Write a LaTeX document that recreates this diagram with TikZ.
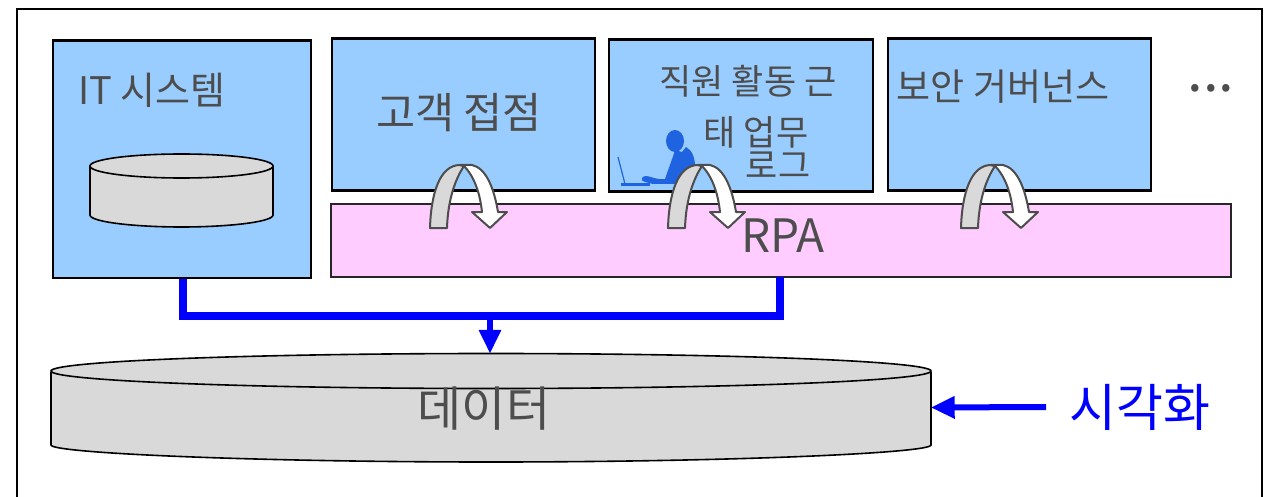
\documentclass[tikz,border=0pt]{standalone}
\usepackage{fontspec}
\setmainfont{Noto Sans CJK KR}
\usetikzlibrary{calc,arrows.meta}
\definecolor{boxblue}{HTML}{99CCFF}
\definecolor{rpapink}{HTML}{FFCCFF}
\definecolor{dbgrey}{HTML}{D9D9D9}
\definecolor{txt}{HTML}{4D4D4D}
\definecolor{person}{HTML}{1F63E0}
\newcommand{\fs}[1]{\fontsize{#1}{#1}\selectfont}
\tikzset{
  panel/.style={draw=black,line width=2.4pt,fill=boxblue,inner sep=0pt,anchor=north west},
  label/.style={text=txt,inner sep=0pt,anchor=center},
  flow/.style={draw=blue,line width=8pt},
  bluehead/.style={-{Triangle[length=24pt,width=21pt]},draw=blue,line width=6pt,shorten >=-0.5pt},
  archgrey/.style={fill=dbgrey,draw=txt,line width=2pt,line join=round},
  archwhite/.style={fill=white,draw=txt,line width=2pt,line join=round},
  pics/arch/.style={code={
    \path[archgrey] (0,0) .. controls (1,-35) and (10,-63) .. (30,-63) -- (34,-62)
       .. controls (26,-50) and (18,-30) .. (17,0) -- cycle;
    \path[archwhite] (30,-63) -- (42,-63) .. controls (56,-60) and (64,-40) .. (68,-16)
       -- (77,-16) -- (60,0) -- (42,-16) -- (52,-16)
       .. controls (50,-35) and (44,-52) .. (34,-62) -- cycle;
  }},
}
\begin{document}
\begin{tikzpicture}[x=1pt,y=-1pt]
\useasboundingbox (0,0) rectangle (1268,497);
\draw[line width=2pt] (17,497) -- (17,9) -- (1262,9) -- (1262,497);

% panels
\node[panel,minimum width=258pt,minimum height=237pt] (it) at (51.5,39.5) {};
\node[panel,minimum width=263pt,minimum height=152pt] (cust) at (330.5,37.5) {};
\node[panel,minimum width=264pt,minimum height=152pt] (staff) at (608,38.5) {};
\node[panel,minimum width=263pt,minimum height=152pt] (sec) at (886.5,37.5) {};
\node[panel,draw=black!85,fill=rpapink,minimum width=900pt,minimum height=73pt] (rpa) at (330,203) {};

% small cylinder
\path[fill=dbgrey,draw=black,line width=1.6pt] (90,166) -- (90,215) .. controls (90,222) and (135,227) .. (181.5,227) .. controls (228,227) and (273,222) .. (273,215) -- (273,166);
\path[fill=dbgrey,draw=black,line width=1.6pt] (181.5,166) ellipse [x radius=91.5pt,y radius=12pt];

% big cylinder
\path[fill=dbgrey,draw=black,line width=1.6pt] (51,372) -- (51,445) .. controls (51,453) and (250,462) .. (491,462) .. controls (732,462) and (931,453) .. (931,445) -- (931,372);
\path[fill=dbgrey,draw=black,line width=1.6pt] (491,371) ellipse [x radius=440pt,y radius=17.5pt];
\node[inner sep=0pt,minimum width=880pt,minimum height=108pt] (data) at (491,407.5) {};

% person at laptop
\fill[person] (675,141) ellipse [x radius=9pt,y radius=11pt];
\fill[person] (675,150) -- (682,152) -- (686,147) .. controls (692,150) and (695,158) .. (695,166) -- (690,184) -- (653,184) -- (645,182) .. controls (640,181) and (641,176) .. (646,176) .. controls (650,176) and (656,180) .. (665,179) .. controls (668,170) and (672,160) .. (675,150) -- cycle;
\draw[person,line width=1.2pt] (618,157) -- (625,184);
\fill[person] (621,183) rectangle (650,186);

% arches
\pic at (430,228) {arch};
\pic at (668,228) {arch};
\pic at (961,228) {arch};

% connectors
\coordinate (rpafoot) at (780,277);
\coordinate (join) at (490,316);
\draw[flow] (it.south -| 183,0) -- (183,316) -- (join) -- (780,316) -- (rpafoot);
\draw[bluehead] (join) -- (join |- data.north);
\coordinate (visstart) at (1046,407);
\draw[bluehead] (visstart) -- (data.east);

% labels
\node[label,font=\fs{38}] (tit) at (152,90) {IT 시스템};
\node[label,font=\fs{42.5}] (tcust) at (459,113) {고객 접점};
\node[label,font=\fs{35}] (tstaff1) at (748,81) {직원 활동 근};
\node[label,font=\fs{35}] (tstaff2) at (756,132) {태 업무};
\node[label,font=\fs{35}] (tstaff3) at (778,165) {로그};
\node[label,font=\fs{37}] (tsec) at (1003,87) {보안 거버넌스};
\node[label,font=\fs{56}] (tdots) at (1211,88) {...};
\node[label,font=\fs{46}] (trpa) at (783,236) {RPA};
\node[label,font=\fs{48}] (tdata) at (484,409) {데이터};
\node[label,text=blue,font=\fs{51}] (tvis) at (1140,407) {시각화};
\end{tikzpicture}
\end{document}
